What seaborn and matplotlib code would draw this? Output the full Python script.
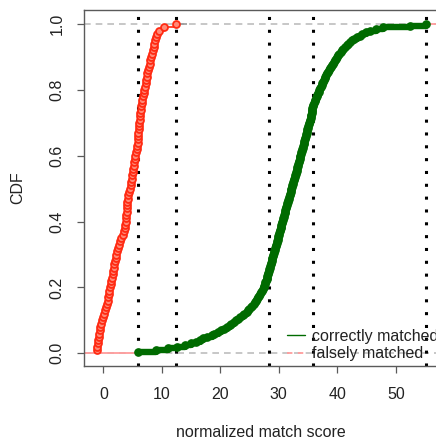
import matplotlib
matplotlib.use("Agg")
import matplotlib.pyplot as plt
from matplotlib.lines import Line2D
import seaborn as sns

# Normalized match scores of falsely matched pairs (sorted)
falsely_matched = [
    -1.12, -1.05, -0.98, -0.90, -0.80, -0.70, -0.62, -0.55, -0.43, -0.30,
    -0.10, 0.10, 0.27, 0.43, 0.60, 0.72, 0.84, 0.95, 1.05, 1.15,
    1.27, 1.39, 1.50, 1.60, 1.68, 1.79, 1.90, 2.00, 2.12, 2.24,
    2.35, 2.50, 2.66, 2.80, 3.00, 3.28, 3.50, 3.70, 3.78, 3.85,
    3.90, 3.93, 3.97, 4.02, 4.06, 4.12, 4.18, 4.30, 4.45, 4.57,
    4.68, 4.80, 4.89, 4.97, 5.04, 5.10, 5.18, 5.30, 5.40, 5.50,
    5.61, 5.72, 5.80, 5.87, 5.92, 5.97, 6.00, 6.04, 6.08, 6.13,
    6.20, 6.27, 6.34, 6.42, 6.50, 6.58, 6.67, 6.78, 6.90, 7.02,
    7.14, 7.25, 7.35, 7.45, 7.55, 7.68, 7.80, 7.92, 8.05, 8.15,
    8.30, 8.44, 8.58, 8.70, 8.85, 9.00, 9.13, 9.50, 10.30, 12.40,
]

# Normalized match scores of correctly matched pairs (sorted)
correctly_matched = [
    6.0, 9.0, 11.0, 12.6, 14.0, 15.0, 15.8, 16.5, 17.1, 17.8,
    18.5, 19.0, 19.6, 20.1, 20.6, 21.1, 21.6, 21.9, 22.3, 22.6,
    23.0, 23.4, 23.8, 24.1, 24.5, 24.7, 24.95, 25.2, 25.45, 25.7,
    25.9, 26.1, 26.3, 26.5, 26.65, 26.8, 26.95, 27.1, 27.25, 27.4,
    27.5, 27.6, 27.7, 27.8, 27.9, 27.95, 28.05, 28.12, 28.2, 28.3,
    28.38, 28.45, 28.53, 28.6, 28.68, 28.75, 28.83, 28.9, 28.98, 29.05,
    29.13, 29.2, 29.28, 29.35, 29.45, 29.55, 29.62, 29.7, 29.78, 29.85,
    29.93, 30.0, 30.08, 30.15, 30.23, 30.3, 30.38, 30.45, 30.53, 30.6,
    30.68, 30.75, 30.83, 30.9, 30.98, 31.05, 31.13, 31.2, 31.28, 31.35,
    31.43, 31.5, 31.6, 31.7, 31.78, 31.85, 31.93, 32.0, 32.08, 32.15,
    32.23, 32.3, 32.38, 32.45, 32.53, 32.6, 32.7, 32.8, 32.88, 32.95,
    33.03, 33.1, 33.18, 33.25, 33.33, 33.4, 33.48, 33.55, 33.63, 33.7,
    33.78, 33.85, 33.93, 34.0, 34.08, 34.15, 34.23, 34.3, 34.38, 34.45,
    34.53, 34.6, 34.68, 34.75, 34.83, 34.9, 34.98, 35.05, 35.13, 35.2,
    35.28, 35.35, 35.43, 35.5, 35.55, 35.6, 35.65, 35.7, 35.75, 35.8,
    35.9, 36.0, 36.1, 36.2, 36.32, 36.45, 36.57, 36.7, 36.82, 36.95,
    37.07, 37.2, 37.32, 37.45, 37.57, 37.7, 37.82, 37.95, 38.1, 38.25,
    38.4, 38.55, 38.72, 38.9, 39.07, 39.25, 39.42, 39.6, 39.75, 39.9,
    40.1, 40.3, 40.55, 40.8, 41.05, 41.3, 41.6, 41.9, 42.2, 42.5,
    42.9, 43.3, 43.8, 44.3, 44.9, 45.6, 46.6, 47.8, 52.4, 55.2,
]

# Reference score positions marked with dotted vertical lines
reference_scores = [6.0, 12.4, 28.3, 35.8, 55.2]

x_ticks = [0, 10, 20, 30, 40, 50]
y_ticks = [0.0, 0.2, 0.4, 0.6, 0.8, 1.0]
y_tick_labels = ["0.0", "0.2", "0.4", "0.6", "0.8", "1.0"]
legend_labels = ["correctly matched", "falsely matched"]

GREEN = "#006b00"
RED = "#ff2a12"
PINK = "#ff9c9c"
AXIS_GRAY = "#5a5a5a"
TEXT = "#222222"
FS = 11.5

sns.set_style("white")
plt.rcParams["font.family"] = ["Liberation Sans", "DejaVu Sans"]

W, H = 436, 443
fig = plt.figure(figsize=(W / 100, H / 100), dpi=100)
ax = fig.add_axes([83.6 / W, 1 - 366 / H, 355.8 / W, 356 / H])

x_lo, x_hi = -3.37, 57.45
ax.set_xlim(x_lo, x_hi)
ax.set_ylim(-0.0386, 1.0426)

# guide lines at CDF = 0 and 1
for level in (0, 1):
    ax.axhline(level, color="#bdbdbd", lw=1.2, dashes=(4, 3), zorder=1)

# dotted reference lines
for v in reference_scores:
    ax.axvline(v, color="black", lw=2.2, linestyle=(0, (1, 3.2)), zorder=2)

# tails of the step functions
ax.hlines(0, x_lo, min(correctly_matched), color=PINK, lw=1.3, zorder=2)
ax.hlines(1, max(correctly_matched), x_hi, color=PINK, lw=1.3, zorder=2)
ax.hlines(1, max(falsely_matched), max(falsely_matched) + 1.9,
          color="#9a9a9a", lw=1.2, zorder=2)

# empirical CDFs
sns.ecdfplot(x=correctly_matched, ax=ax, color=GREEN, lw=4.6,
             marker="o", ms=5.2, mfc=GREEN, mec=GREEN, zorder=4)
sns.ecdfplot(x=falsely_matched, ax=ax, color=RED, lw=1.2,
             marker="o", ms=5.0, mfc="#ff8a78", mec=RED, mew=1.3, zorder=4)

# axes styling
for side in ("left", "bottom", "top", "right"):
    ax.spines[side].set_color(AXIS_GRAY)
    ax.spines[side].set_linewidth(1.0)

ax.set_xticks(x_ticks)
ax.set_xticklabels([str(t) for t in x_ticks])
ax.set_yticks(y_ticks)
ax.set_yticklabels(y_tick_labels, rotation=90, va="center")
ax.tick_params(axis="both", which="major", direction="out", length=5.3,
               width=0.9, color=AXIS_GRAY, labelcolor=TEXT, labelsize=FS)
ax.tick_params(axis="x", pad=9.5, bottom=True)
ax.tick_params(axis="y", pad=8.5, left=True)

ax.set_xlabel("normalized match score", fontsize=FS, color=TEXT)
ax.set_ylabel("CDF", fontsize=FS, color=TEXT)
ax.xaxis.set_label_coords(0.4986, -0.188)
ax.xaxis.label.set_va("center")
ax.yaxis.set_label_coords(-0.186, 0.5)
ax.yaxis.label.set_va("center")
ax.yaxis.label.set_ha("center")

handles = [
    Line2D([], [], color=GREEN, lw=1.0),
    Line2D([], [], color=PINK, lw=1.3, dashes=(3, 3)),
]
ax.legend(handles, legend_labels, loc="center left",
          bbox_to_anchor=(287 / W, 1 - 345 / H), bbox_transform=fig.transFigure,
          frameon=False, borderpad=0, borderaxespad=0, handlelength=1.1,
          handletextpad=0.45, labelspacing=0.15, fontsize=FS,
          labelcolor=TEXT)

fig.savefig("out.png", dpi=100)
